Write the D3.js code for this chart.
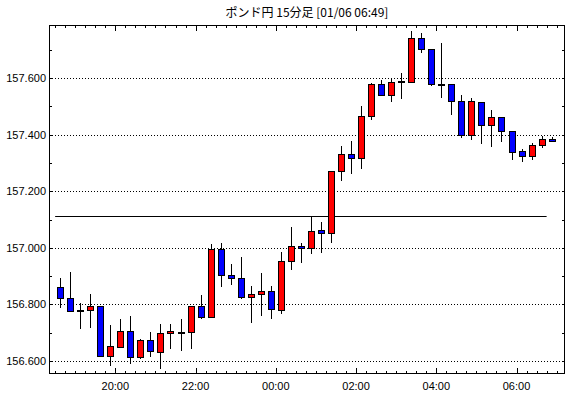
<!DOCTYPE html>
<html>
<head>
<meta charset="utf-8">
<script src="https://cdnjs.cloudflare.com/ajax/libs/d3/7.8.5/d3.min.js"></script>
<style>
  body { margin: 0; background: #fff; }
  svg { display: block; }
</style>
</head>
<body>
<div id="chart"></div>
<script>
// 15 minute candles, GBP/JPY
let times = ["18:30","18:45","19:00","19:15","19:30","19:45","20:00","20:15","20:30","20:45",
             "21:00","21:15","21:30","21:45","22:00","22:15","22:30","22:45","23:00","23:15",
             "23:30","23:45","00:00","00:15","00:30","00:45","01:00","01:15","01:30","01:45",
             "02:00","02:15","02:30","02:45","03:00","03:15","03:30","03:45","04:00","04:15",
             "04:30","04:45","05:00","05:15","05:30","05:45","06:00","06:15","06:30","06:45"];
let opens = [156.860,156.822,156.779,156.779,156.793,156.619,156.651,156.705,156.613,156.673,
             156.631,156.698,156.703,156.701,156.793,156.754,156.995,156.903,156.892,156.825,
             156.836,156.846,156.779,156.952,157.005,156.998,157.062,157.051,157.270,157.330,
             157.316,157.465,157.578,157.539,157.585,157.586,157.740,157.702,157.578,157.578,
             157.518,157.398,157.514,157.433,157.461,157.412,157.341,157.326,157.362,157.384];
let highs = [156.893,156.915,156.805,156.837,156.795,156.727,156.748,156.759,156.678,156.702,
             156.731,156.731,156.748,156.793,156.833,157.013,157.017,156.943,156.968,156.865,
             156.911,156.865,156.985,157.074,157.017,157.111,157.091,157.271,157.359,157.376,
             157.501,157.581,157.593,157.599,157.618,157.766,157.759,157.702,157.724,157.578,
             157.540,157.529,157.514,157.486,157.461,157.412,157.348,157.371,157.394,157.391];
let lows = [156.788,156.776,156.714,156.718,156.619,156.583,156.647,156.590,156.608,156.615,
            156.573,156.643,156.636,156.643,156.749,156.754,156.863,156.870,156.820,156.735,
            156.760,156.749,156.767,156.923,156.946,156.978,156.983,157.018,157.235,157.262,
            157.280,157.453,157.539,157.516,157.527,157.582,157.690,157.573,157.530,157.470,
            157.389,157.382,157.368,157.357,157.375,157.311,157.304,157.311,157.354,157.373];
let closes = [156.822,156.776,156.777,156.793,156.619,156.652,156.705,156.613,156.673,156.634,
              156.698,156.705,156.702,156.793,156.754,156.995,156.903,156.892,156.825,156.836,
              156.846,156.783,156.952,157.005,156.998,157.058,157.051,157.271,157.330,157.316,
              157.465,157.578,157.539,157.585,157.589,157.740,157.702,157.578,157.577,157.518,
              157.398,157.518,157.433,157.461,157.412,157.338,157.326,157.362,157.384,157.376];

let yTicks = [156.6, 156.8, 157.0, 157.2, 157.4, 157.6];
let xTickLabels = ["20:00", "22:00", "00:00", "02:00", "04:00", "06:00"];
let refLevel = 157.111;
let title = "ポンド円 15分足 [01/06 06:49]";

// turn "HH:MM" into a Date (evening belongs to 01/05, morning to 01/06)
function toDate(s) {
    let p = s.split(":");
    let h = +p[0], m = +p[1];
    return new Date(2000, 0, h >= 12 ? 5 : 6, h, m);
}

let dataObj = [];
for (let i = 0; i < times.length; i++) {
    dataObj[i] = { t: toDate(times[i]), o: opens[i], h: highs[i], l: lows[i], c: closes[i] };
}

var W = 570, H = 398;
var margin = { top: 25, right: 5, bottom: 24, left: 49 };

var svg = d3.select("#chart")
    .append("svg")
    .attr("width", W)
    .attr("height", H);

var x0 = margin.left, x1 = W - margin.right;
var y0 = margin.top, y1 = H - margin.bottom;

// scales
var x = d3.scaleTime()
    .domain([new Date(2000, 0, 5, 18, 20, 48), new Date(2000, 0, 6, 7, 12, 30)])
    .range([x0, x1]);

var y = d3.scaleLinear()
    .domain([156.6, 157.6])
    .range([361, 78]);

var half = 7.5 * 60 * 1000; // candle drawn at the middle of its 15 minutes

function px(v) { return Math.round(v) + 0.5; }

// title
svg.append("text")
    .attr("x", (x0 + x1) / 2)
    .attr("y", 17)
    .attr("text-anchor", "middle")
    .style("font-family", "'Noto Sans CJK JP', sans-serif")
    .style("font-size", "12px")
    .text(title);

// dotted gridlines
svg.selectAll("grid")
    .data(yTicks)
    .enter()
    .append("line")
    .attr("x1", x0)
    .attr("x2", x1)
    .attr("y1", function (d) { return px(y(d)); })
    .attr("y2", function (d) { return px(y(d)); })
    .attr("stroke", "black")
    .attr("stroke-dasharray", "1,2");

// minor ticks on y (every 0.1)
var yMinor = d3.range(156.6, 157.75, 0.1);
svg.selectAll("yminorL")
    .data(yMinor)
    .enter()
    .append("line")
    .attr("x1", x0)
    .attr("x2", x0 + 3)
    .attr("y1", function (d) { return px(y(d)); })
    .attr("y2", function (d) { return px(y(d)); })
    .attr("stroke", "black");
svg.selectAll("yminorR")
    .data(yMinor)
    .enter()
    .append("line")
    .attr("x1", x1 - 3)
    .attr("x2", x1)
    .attr("y1", function (d) { return px(y(d)); })
    .attr("y2", function (d) { return px(y(d)); })
    .attr("stroke", "black");

// y labels
svg.selectAll("ylabel")
    .data(yTicks)
    .enter()
    .append("text")
    .attr("x", x0 - 3)
    .attr("y", function (d) { return y(d) + 4; })
    .attr("text-anchor", "end")
    .style("font-family", "'Liberation Sans', Arial, sans-serif")
    .style("font-size", "11px")
    .text(function (d) { return d3.format(".3f")(d); });

// x ticks every 15 minutes, top and bottom
var xTicks = d3.timeMinute.every(15).range(x.domain()[0], x.domain()[1]);
function isMajor(d) { return d.getMinutes() === 0 && d.getHours() % 2 === 0; }
svg.selectAll("xtickB")
    .data(xTicks)
    .enter()
    .append("line")
    .attr("x1", function (d) { return px(x(d)); })
    .attr("x2", function (d) { return px(x(d)); })
    .attr("y1", y1)
    .attr("y2", function (d) { return y1 - (isMajor(d) ? 6 : 3); })
    .attr("stroke", "black");
svg.selectAll("xtickT")
    .data(xTicks)
    .enter()
    .append("line")
    .attr("x1", function (d) { return px(x(d)); })
    .attr("x2", function (d) { return px(x(d)); })
    .attr("y1", y0)
    .attr("y2", function (d) { return y0 + (isMajor(d) ? 6 : 3); })
    .attr("stroke", "black");

// x labels
svg.selectAll("xlabel")
    .data(xTickLabels)
    .enter()
    .append("text")
    .attr("x", function (d) { return x(toDate(d)); })
    .attr("y", 390)
    .attr("text-anchor", "middle")
    .style("font-family", "'Liberation Sans', Arial, sans-serif")
    .style("font-size", "11px")
    .text(function (d) { return d; });

// reference line
svg.append("line")
    .attr("x1", x(dataObj[0].t))
    .attr("x2", x(dataObj[dataObj.length - 1].t))
    .attr("y1", px(y(refLevel)))
    .attr("y2", px(y(refLevel)))
    .attr("stroke", "black");

// wicks
svg.selectAll("wick")
    .data(dataObj)
    .enter()
    .append("line")
    .attr("x1", function (d) { return px(x(+d.t + half)); })
    .attr("x2", function (d) { return px(x(+d.t + half)); })
    .attr("y1", function (d) { return Math.round(y(d.h)); })
    .attr("y2", function (d) { return Math.round(y(d.l)); })
    .attr("stroke", "black");

// bodies
svg.selectAll("body")
    .data(dataObj)
    .enter()
    .append("rect")
    .attr("x", function (d) { return Math.round(x(+d.t + half)) - 3 + 0.5; })
    .attr("y", function (d) { return Math.round(y(Math.max(d.o, d.c))) + 0.5; })
    .attr("width", 6)
    .attr("height", function (d) {
        return Math.max(1, Math.round(y(Math.min(d.o, d.c))) - Math.round(y(Math.max(d.o, d.c))));
    })
    .style("fill", function (d) { return d.c >= d.o ? "#ff0000" : "#0000ff"; })
    .attr("stroke", "black");

// frame
svg.append("rect")
    .attr("x", x0 + 0.5)
    .attr("y", y0 + 0.5)
    .attr("width", x1 - x0 - 1)
    .attr("height", y1 - y0 - 1)
    .attr("fill", "none")
    .attr("stroke", "black");
</script>
</body>
</html>
